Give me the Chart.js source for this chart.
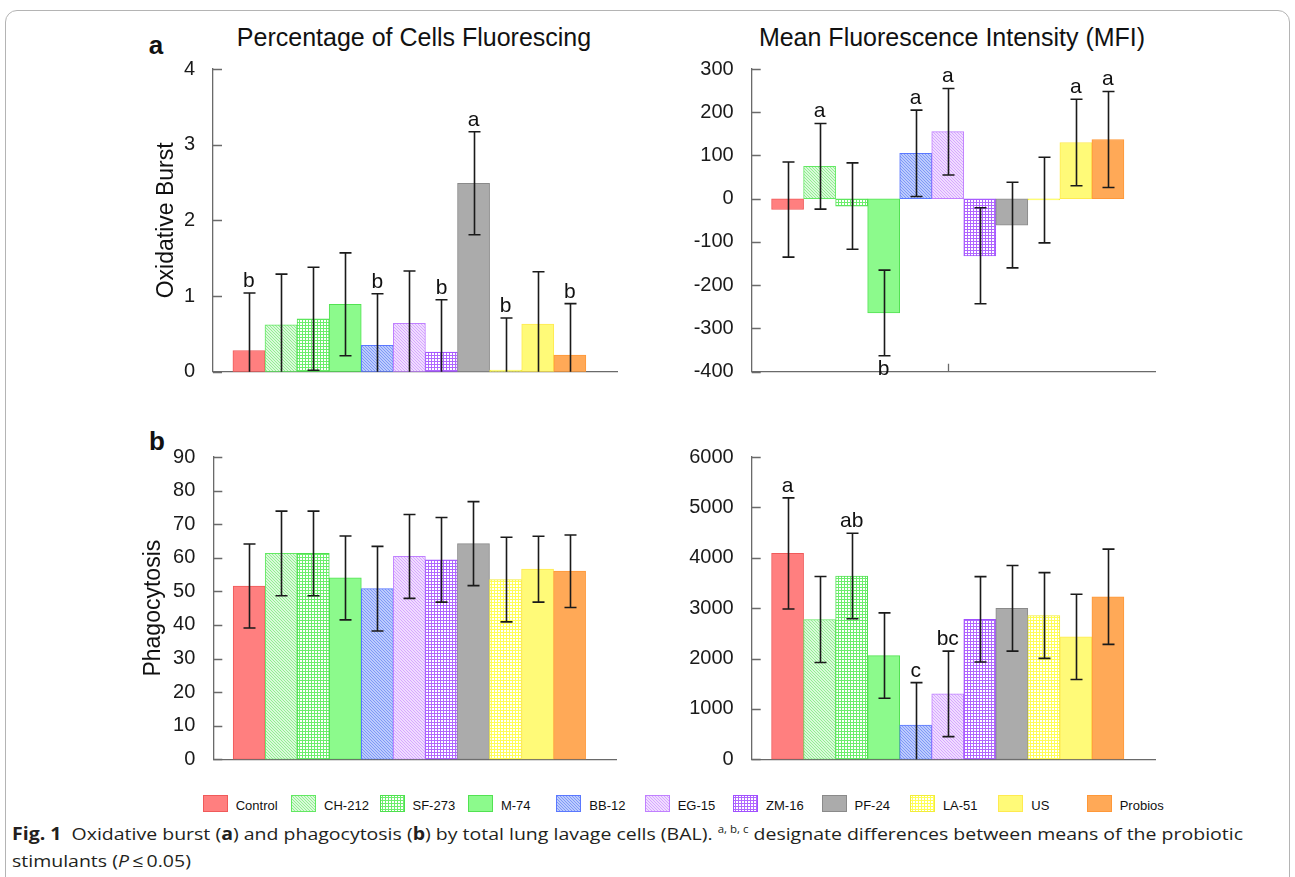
<!DOCTYPE html>
<html>
<head>
<meta charset="utf-8">
<script src="https://cdn.jsdelivr.net/npm/chart.js@4.4.1/dist/chart.umd.min.js"></script>
<style>
  html,body{margin:0;padding:0;background:#fff;}
  body{width:1295px;height:877px;overflow:hidden;position:relative;font-family:"Liberation Sans",Arial,Helvetica,sans-serif;}
  .frame{position:absolute;left:5px;top:10px;width:1283px;height:920px;border:1px solid #b4b4b4;border-radius:12px;}
  canvas.panel{position:absolute;}
  .ptitle{position:absolute;font-size:25px;color:#111;white-space:nowrap;transform:translate(-50%,-50%);line-height:1;}
  .plabel{position:absolute;font-weight:bold;font-size:26px;color:#111;line-height:1;transform:translate(-50%,-50%);}
  .leg{position:absolute;top:795px;height:17px;}
  .leg canvas{position:absolute;left:0;top:0;}
  .leg span{position:absolute;left:33px;top:3px;font-size:13px;color:#111;white-space:nowrap;line-height:15px;}
  #cap{position:absolute;left:12px;top:820px;font-family:"Open Sans","Noto Sans",sans-serif;font-size:17px;line-height:27px;color:#231f20;white-space:nowrap;}
  #cap span.ln{display:inline-block;transform-origin:0 50%;}
  #cap sup{font-size:10px;vertical-align:7px;line-height:0;}
</style>
</head>
<body>
<div class="frame"></div>

<div class="plabel" style="left:156px;top:45px;">a</div>
<div class="plabel" style="left:157px;top:441px;">b</div>
<div class="ptitle" style="left:414px;top:37px;">Percentage of Cells Fluorescing</div>
<div class="ptitle" style="left:952px;top:37px;">Mean Fluorescence Intensity (MFI)</div>

<canvas class="panel" id="c1"></canvas>
<canvas class="panel" id="c2"></canvas>
<canvas class="panel" id="c3"></canvas>
<canvas class="panel" id="c4"></canvas>

<div id="legend"></div>

<div id="cap">
  <span class="ln" id="l1"><b>Fig. 1</b>&nbsp; Oxidative burst (<b>a</b>) and phagocytosis (<b>b</b>) by total lung lavage cells (BAL). <sup>a, b, c</sup> designate differences between means of the probiotic</span><br>
  <span class="ln" id="l2">stimulants (<i>P</i>&thinsp;≤&thinsp;0.05)</span>
</div>

<script>
// ---------------- DATA ----------------
const categories = ['Control','CH-212','SF-273','M-74','BB-12','EG-15','ZM-16','PF-24','LA-51','US','Probios'];

// (a) Oxidative burst – percentage of cells fluorescing
const obPctMean    = [0.28, 0.62, 0.70, 0.89, 0.35, 0.64, 0.26, 2.49, 0.02, 0.63, 0.22];
const obPctErr     = [0.76, 0.67, 0.68, 0.68, 0.68, 0.69, 0.69, 0.68, 0.69, 0.69, 0.68];
const obPctLetters = ['b', '', '', '', 'b', '', 'b', 'a', 'b', '', 'b'];
const obPctTicks   = [0, 1, 2, 3, 4];

// (a) Oxidative burst – MFI
const obMfiMean    = [-25, 75, -17, -264, 105, 155, -132, -61, -3, 130, 137];
const obMfiErr     = [110, 99, 100, 99, 100, 100, 111, 99, 99, 100, 111];
const obMfiLetters = ['', 'a', '', 'b', 'a', 'a', '', '', '', 'a', 'a'];
const obMfiTicks   = [-400, -300, -200, -100, 0, 100, 200, 300];
const obMfiXTicks  = [6];

// (b) Phagocytosis – percentage
const phPctMean    = [51.6, 61.3, 61.3, 54.0, 50.8, 60.4, 59.4, 64.2, 53.5, 56.6, 56.0];
const phPctErr     = [12.5, 12.6, 12.6, 12.5, 12.6, 12.5, 12.6, 12.5, 12.6, 9.8, 10.8];
const phPctLetters = ['', '', '', '', '', '', '', '', '', '', ''];
const phPctTicks   = [0, 10, 20, 30, 40, 50, 60, 70, 80, 90];

// (b) Phagocytosis – MFI
const phMfiMean    = [4086, 2774, 3638, 2059, 677, 1299, 2778, 2997, 2855, 2430, 3226];
const phMfiErr     = [1102, 854, 848, 847, 844, 848, 848, 850, 851, 845, 945];
const phMfiLetters = ['a', '', 'ab', '', 'c', 'bc', '', '', '', '', ''];
const phMfiTicks   = [0, 1000, 2000, 3000, 4000, 5000, 6000];

// ---------------- STYLES ----------------
const FONT = '"Liberation Sans", Arial, Helvetica, sans-serif';
const AXIS = '#6a6a6a';
const barStyles = [
  {type:'solid', color:'#ff7f7f', border:'#f05a5a'},
  {type:'diag',  bg:'#daf9da', fg:'#92ef92', border:'#62e862'},
  {type:'check', fg:'#6cee6c', border:'#4fe04f'},
  {type:'solid', color:'#8cfa8c', border:'#52e252'},
  {type:'diag',  bg:'#bccbfd', fg:'#7f98f6', border:'#5a78ff'},
  {type:'diag',  bg:'#f0dcff', fg:'#d6a8ff', border:'#c080ff'},
  {type:'check', fg:'#b066ff', border:'#a050ff'},
  {type:'solid', color:'#ababab', border:'#8a8a8a'},
  {type:'check', fg:'#ffff55', border:'#f2ec3c'},
  {type:'solid', color:'#fffa78', border:'#ffea50'},
  {type:'solid', color:'#ffa957', border:'#ff9838'}
];

function makeFill(spec) {
  if (spec.type === 'solid') return spec.color;
  const c = document.createElement('canvas');
  const g = c.getContext('2d');
  c.width = 3; c.height = 3;
  if (spec.type === 'diag') {
    g.fillStyle = spec.bg; g.fillRect(0, 0, 3, 3);
    g.fillStyle = spec.fg;
    for (let i = 0; i < 3; i++) g.fillRect(i, i, 1, 1);
  } else {
    g.fillStyle = spec.fg; g.fillRect(0, 0, 3, 3);
    g.fillStyle = '#ffffff';
    g.fillRect(0, 0, 2, 2);
  }
  return g.createPattern(c, 'repeat');
}
const fills = barStyles.map(makeFill);
const borders = barStyles.map(s => s.border);

// ---------------- PLUGINS ----------------
const innerTicks = {
  id: 'innerTicks',
  afterDraw(chart, args, opts) {
    const {ctx, chartArea, scales: {x, y}} = chart;
    ctx.save();
    ctx.strokeStyle = AXIS; ctx.lineWidth = 1.3;
    ctx.beginPath();
    y.ticks.forEach(t => {
      const py = Math.round(y.getPixelForValue(t.value)) + 0.5;
      ctx.moveTo(chartArea.left, py); ctx.lineTo(chartArea.left + 9, py);
    });
    if (opts.showX) {
      x.ticks.forEach(t => {
        const px = Math.round(x.getPixelForValue(t.value)) + 0.5;
        ctx.moveTo(px, chartArea.bottom); ctx.lineTo(px, chartArea.bottom - 8);
      });
    }
    ctx.stroke();
    ctx.restore();
  }
};

const errorBars = {
  id: 'errorBars',
  afterDatasetsDraw(chart) {
    const {ctx, scales: {y}} = chart;
    const ds = chart.data.datasets[0];
    const meta = chart.getDatasetMeta(0);
    ctx.save();
    ctx.strokeStyle = '#1a1a1a';
    ctx.lineWidth = 1.6;
    ctx.fillStyle = '#111';
    ctx.font = '21px ' + FONT;
    ctx.textAlign = 'center';
    meta.data.forEach((bar, i) => {
      const m = ds.data[i].y, e = ds.errors[i];
      const hi = m + e, lo = m - e;
      const x = Math.round(bar.x) + 0.5;
      const yHi = y.getPixelForValue(Math.min(hi, y.max));
      const yLo = y.getPixelForValue(Math.max(lo, y.min));
      ctx.beginPath();
      ctx.moveTo(x, yHi); ctx.lineTo(x, yLo);
      ctx.moveTo(x - 6, yHi); ctx.lineTo(x + 6, yHi);
      if (lo >= y.min) { ctx.moveTo(x - 6, yLo); ctx.lineTo(x + 6, yLo); }
      ctx.stroke();
      const L = ds.letters[i];
      if (L) {
        if (m < 0) {
          ctx.textBaseline = 'top';
          ctx.fillText(L, bar.x, yLo + 3);
        } else {
          ctx.textBaseline = 'alphabetic';
          ctx.fillText(L, bar.x, yHi - 6);
        }
      }
    });
    ctx.restore();
  }
};

// ---------------- PANELS ----------------
function buildPanel(id, area, cfg) {
  const cv = document.getElementById(id);
  const cLeft = Math.round(area.left) - 93;
  const cTop = Math.floor(area.top) - 14;
  const W = Math.ceil(area.right) + 16 - cLeft;
  const H = Math.ceil(area.bottom) + 24 - cTop;
  cv.width = W; cv.height = H;
  cv.style.left = cLeft + 'px'; cv.style.top = cTop + 'px';
  cv.style.width = W + 'px'; cv.style.height = H + 'px';
  const yW = area.left - cLeft;
  const padTop = area.top - cTop;
  const padRight = cLeft + W - area.right;
  const xH = cTop + H - area.bottom;
  const lh = cfg.titleSize * 1.2;

  new Chart(cv, {
    type: 'bar',
    data: {
      datasets: [{
        data: cfg.mean.map((v, i) => ({x: i + 1, y: v})),
        errors: cfg.err,
        letters: cfg.letters,
        backgroundColor: fills,
        borderColor: borders,
        borderWidth: 1,
        borderSkipped: false,
        categoryPercentage: 1,
        barPercentage: 1
      }]
    },
    options: {
      responsive: false,
      animation: false,
      events: [],
      layout: {padding: {top: padTop, right: padRight, left: 0, bottom: 0}},
      plugins: {
        legend: {display: false},
        tooltip: {enabled: false},
        innerTicks: {showX: !!(cfg.xTicks && cfg.xTicks.length)}
      },
      scales: {
        x: {
          type: 'linear', min: -0.12, max: 12.47, bounds: 'data', offset: false,
          grid: {display: false, offset: false},
          border: {display: true, color: AXIS, width: 1.3},
          ticks: {display: false},
          afterBuildTicks: s => { s.ticks = (cfg.xTicks || []).map(v => ({value: v})); },
          afterFit: s => { s.height = xH; }
        },
        y: {
          type: 'linear',
          min: cfg.ticks[0], max: cfg.ticks[cfg.ticks.length - 1],
          grid: {display: false},
          border: {display: true, color: AXIS, width: 1.3},
          ticks: {
            padding: 10, color: '#1a1a1a',
            font: {family: FONT, size: 20},
            callback: v => String(v)
          },
          afterBuildTicks: s => { s.ticks = cfg.ticks.map(v => ({value: v})); },
          afterFit: s => { s.width = yW; },
          title: cfg.title ? {
            display: true, text: cfg.title, color: '#111',
            font: {family: FONT, size: cfg.titleSize},
            padding: {top: cfg.titleCenter - cLeft - lh / 2, bottom: 0}
          } : {display: false}
        }
      }
    },
    plugins: [innerTicks, errorBars]
  });
}

buildPanel('c1', {left: 213, right: 617, top: 61.7, bottom: 371.7},
  {mean: obPctMean, err: obPctErr, letters: obPctLetters, ticks: obPctTicks,
   title: 'Oxidative Burst', titleSize: 23, titleCenter: 166.6});
buildPanel('c2', {left: 751.7, right: 1155, top: 61.7, bottom: 371.7},
  {mean: obMfiMean, err: obMfiErr, letters: obMfiLetters, ticks: obMfiTicks, xTicks: obMfiXTicks, titleSize: 23});
buildPanel('c3', {left: 213.3, right: 616.7, top: 449, bottom: 759.3},
  {mean: phPctMean, err: phPctErr, letters: phPctLetters, ticks: phPctTicks,
   title: 'Phagocytosis', titleSize: 23, titleCenter: 153.8});
buildPanel('c4', {left: 751.7, right: 1155, top: 449, bottom: 759.3},
  {mean: phMfiMean, err: phMfiErr, letters: phMfiLetters, ticks: phMfiTicks, titleSize: 23});

// ---------------- LEGEND ----------------
const legend = document.getElementById('legend');
categories.forEach((name, i) => {
  const item = document.createElement('div');
  item.className = 'leg';
  item.style.left = (202.7 + i * 88.4) + 'px';
  const sw = document.createElement('canvas');
  sw.width = 25; sw.height = 17;
  const g = sw.getContext('2d');
  g.fillStyle = fills[i]; g.fillRect(0, 0, 25, 17);
  g.strokeStyle = borders[i]; g.lineWidth = 1; g.strokeRect(0.5, 0.5, 24, 16);
  const sp = document.createElement('span');
  sp.textContent = name;
  item.appendChild(sw); item.appendChild(sp);
  legend.appendChild(item);
});

// ---------------- CAPTION FIT ----------------
const l1 = document.getElementById('l1'), l2 = document.getElementById('l2');
const k = 1231 / l1.getBoundingClientRect().width;
l1.style.transform = 'scaleX(' + k + ')';
l2.style.transform = 'scaleX(' + k + ')';
</script>
</body>
</html>
